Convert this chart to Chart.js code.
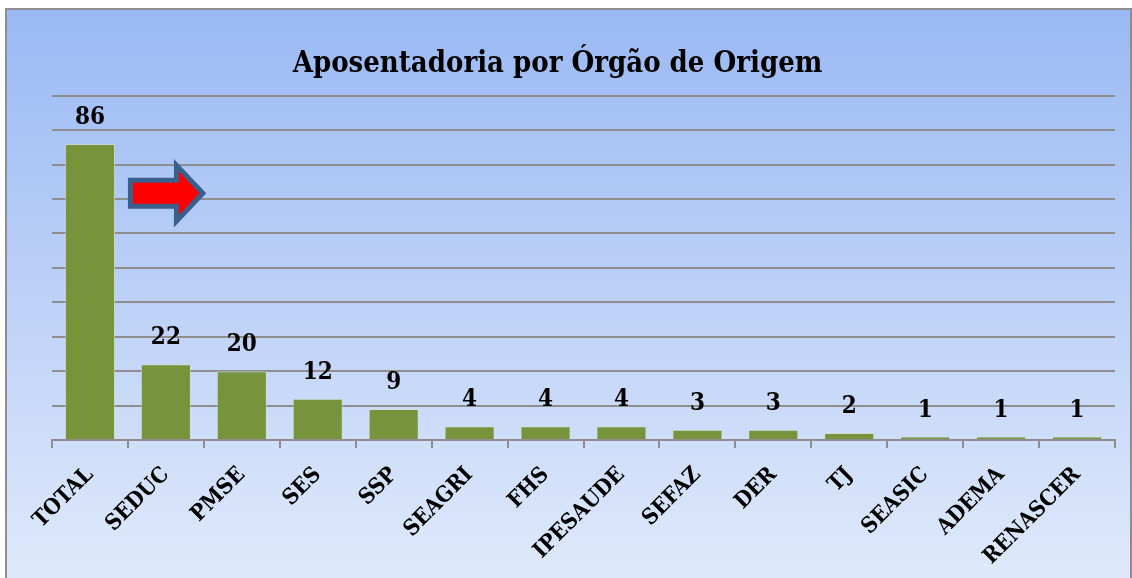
<!DOCTYPE html>
<html><head><meta charset="utf-8">
<script src="https://cdn.jsdelivr.net/npm/chart.js@4"></script>
<style>html,body{margin:0;padding:0;background:#fff;overflow:hidden}#wrap{width:1132px;height:578px}</style>
</head>
<body><div id="wrap"><canvas id="c" width="1132" height="578"></canvas></div>
<script>
const categories = ['TOTAL','SEDUC','PMSE','SES','SSP','SEAGRI','FHS','IPESAUDE','SEFAZ','DER','TJ','SEASIC','ADEMA','RENASCER'];
const values = [86,22,20,12,9,4,4,4,3,3,2,1,1,1];
const titleText = 'Aposentadoria por Órgão de Origem';
const yMin = 0, yMax = 100, yStep = 10;

const SERIF = "'DejaVu Serif Condensed', 'DejaVu Serif', serif";

const backgroundPlugin = {
  id: 'bgFrame',
  beforeDraw(chart) {
    const ctx = chart.ctx;
    ctx.save();
    ctx.fillStyle = '#ffffff';
    ctx.fillRect(0, 0, chart.width, chart.height);
    const g = ctx.createLinearGradient(0, 9, 0, chart.height);
    g.addColorStop(0, '#9ab9f4');
    g.addColorStop(1, '#dfe9fb');
    ctx.fillStyle = g;
    ctx.fillRect(6, 9, chart.width - 7, chart.height - 9);
    ctx.strokeStyle = '#8e8e8e';
    ctx.lineWidth = 2;
    ctx.strokeRect(6, 9, chart.width - 7, chart.height + 5);
    ctx.restore();
  }
};

const labelsArrowPlugin = {
  id: 'labelsArrow',
  afterDatasetsDraw(chart) {
    const ctx = chart.ctx;
    const xs = chart.scales.x, ys = chart.scales.y;
    ctx.save();
    // arrow
    const x0 = xs.getPixelForValue(0.5) + 2.5;
    const x2 = xs.getPixelForValue(1.5) - 1;
    const xh = x0 + 46;
    const yc = ys.getPixelForValue(72) + 1;
    ctx.beginPath();
    ctx.moveTo(x0, yc - 13);
    ctx.lineTo(xh, yc - 13);
    ctx.lineTo(xh, yc - 28);
    ctx.lineTo(x2, yc);
    ctx.lineTo(xh, yc + 28);
    ctx.lineTo(xh, yc + 13);
    ctx.lineTo(x0, yc + 13);
    ctx.closePath();
    ctx.fillStyle = '#ff0000';
    ctx.fill();
    ctx.lineWidth = 5;
    ctx.lineJoin = 'miter';
    ctx.strokeStyle = '#3b5f8c';
    ctx.stroke();
    // value labels
    ctx.fillStyle = '#000';
    ctx.font = 'bold 24px ' + SERIF;
    ctx.textAlign = 'center';
    ctx.textBaseline = 'alphabetic';
    chart.getDatasetMeta(0).data.forEach((bar, i) => {
      ctx.fillText(String(values[i]), bar.x, bar.y - 20);
    });
    ctx.restore();
  }
};

new Chart(document.getElementById('c'), {
  type: 'bar',
  data: {
    labels: categories,
    datasets: [{
      data: values,
      backgroundColor: '#77933c',
      borderColor: 'rgba(210,225,200,0.6)',
      borderWidth: 1,
      categoryPercentage: 1,
      barPercentage: 0.66
    }]
  },
  options: {
    responsive: false,
    animation: false,
    devicePixelRatio: 1,
    layout: { padding: { left: 0, right: 17, top: 0, bottom: 0 } },
    plugins: {
      legend: { display: false },
      tooltip: { enabled: false },
      title: {
        display: true,
        text: titleText,
        color: '#000',
        font: { family: SERIF, size: 29, weight: 'bold', lineHeight: 1.2 },
        padding: { top: 47, bottom: 14 }
      }
    },
    scales: {
      x: {
        offset: true,
        grid: { offset: true, drawOnChartArea: false, drawTicks: true, tickLength: 8, color: '#8e8e8e', lineWidth: 2 },
        border: { display: true, color: '#8e8e8e', width: 2 },
        ticks: { color: '#000', font: { family: SERIF, size: 22, weight: 'bold' }, minRotation: 45, maxRotation: 45, padding: 14, autoSkip: false },
        afterFit(scale) { scale.height = 138; }
      },
      y: {
        min: yMin, max: yMax,
        ticks: { display: false, stepSize: yStep },
        grid: { color: '#8e8e8e', lineWidth: 2, drawTicks: false },
        border: { display: false },
        afterFit(scale) { scale.width = 52; }
      }
    }
  },
  plugins: [backgroundPlugin, labelsArrowPlugin]
});
</script>
</body></html>
